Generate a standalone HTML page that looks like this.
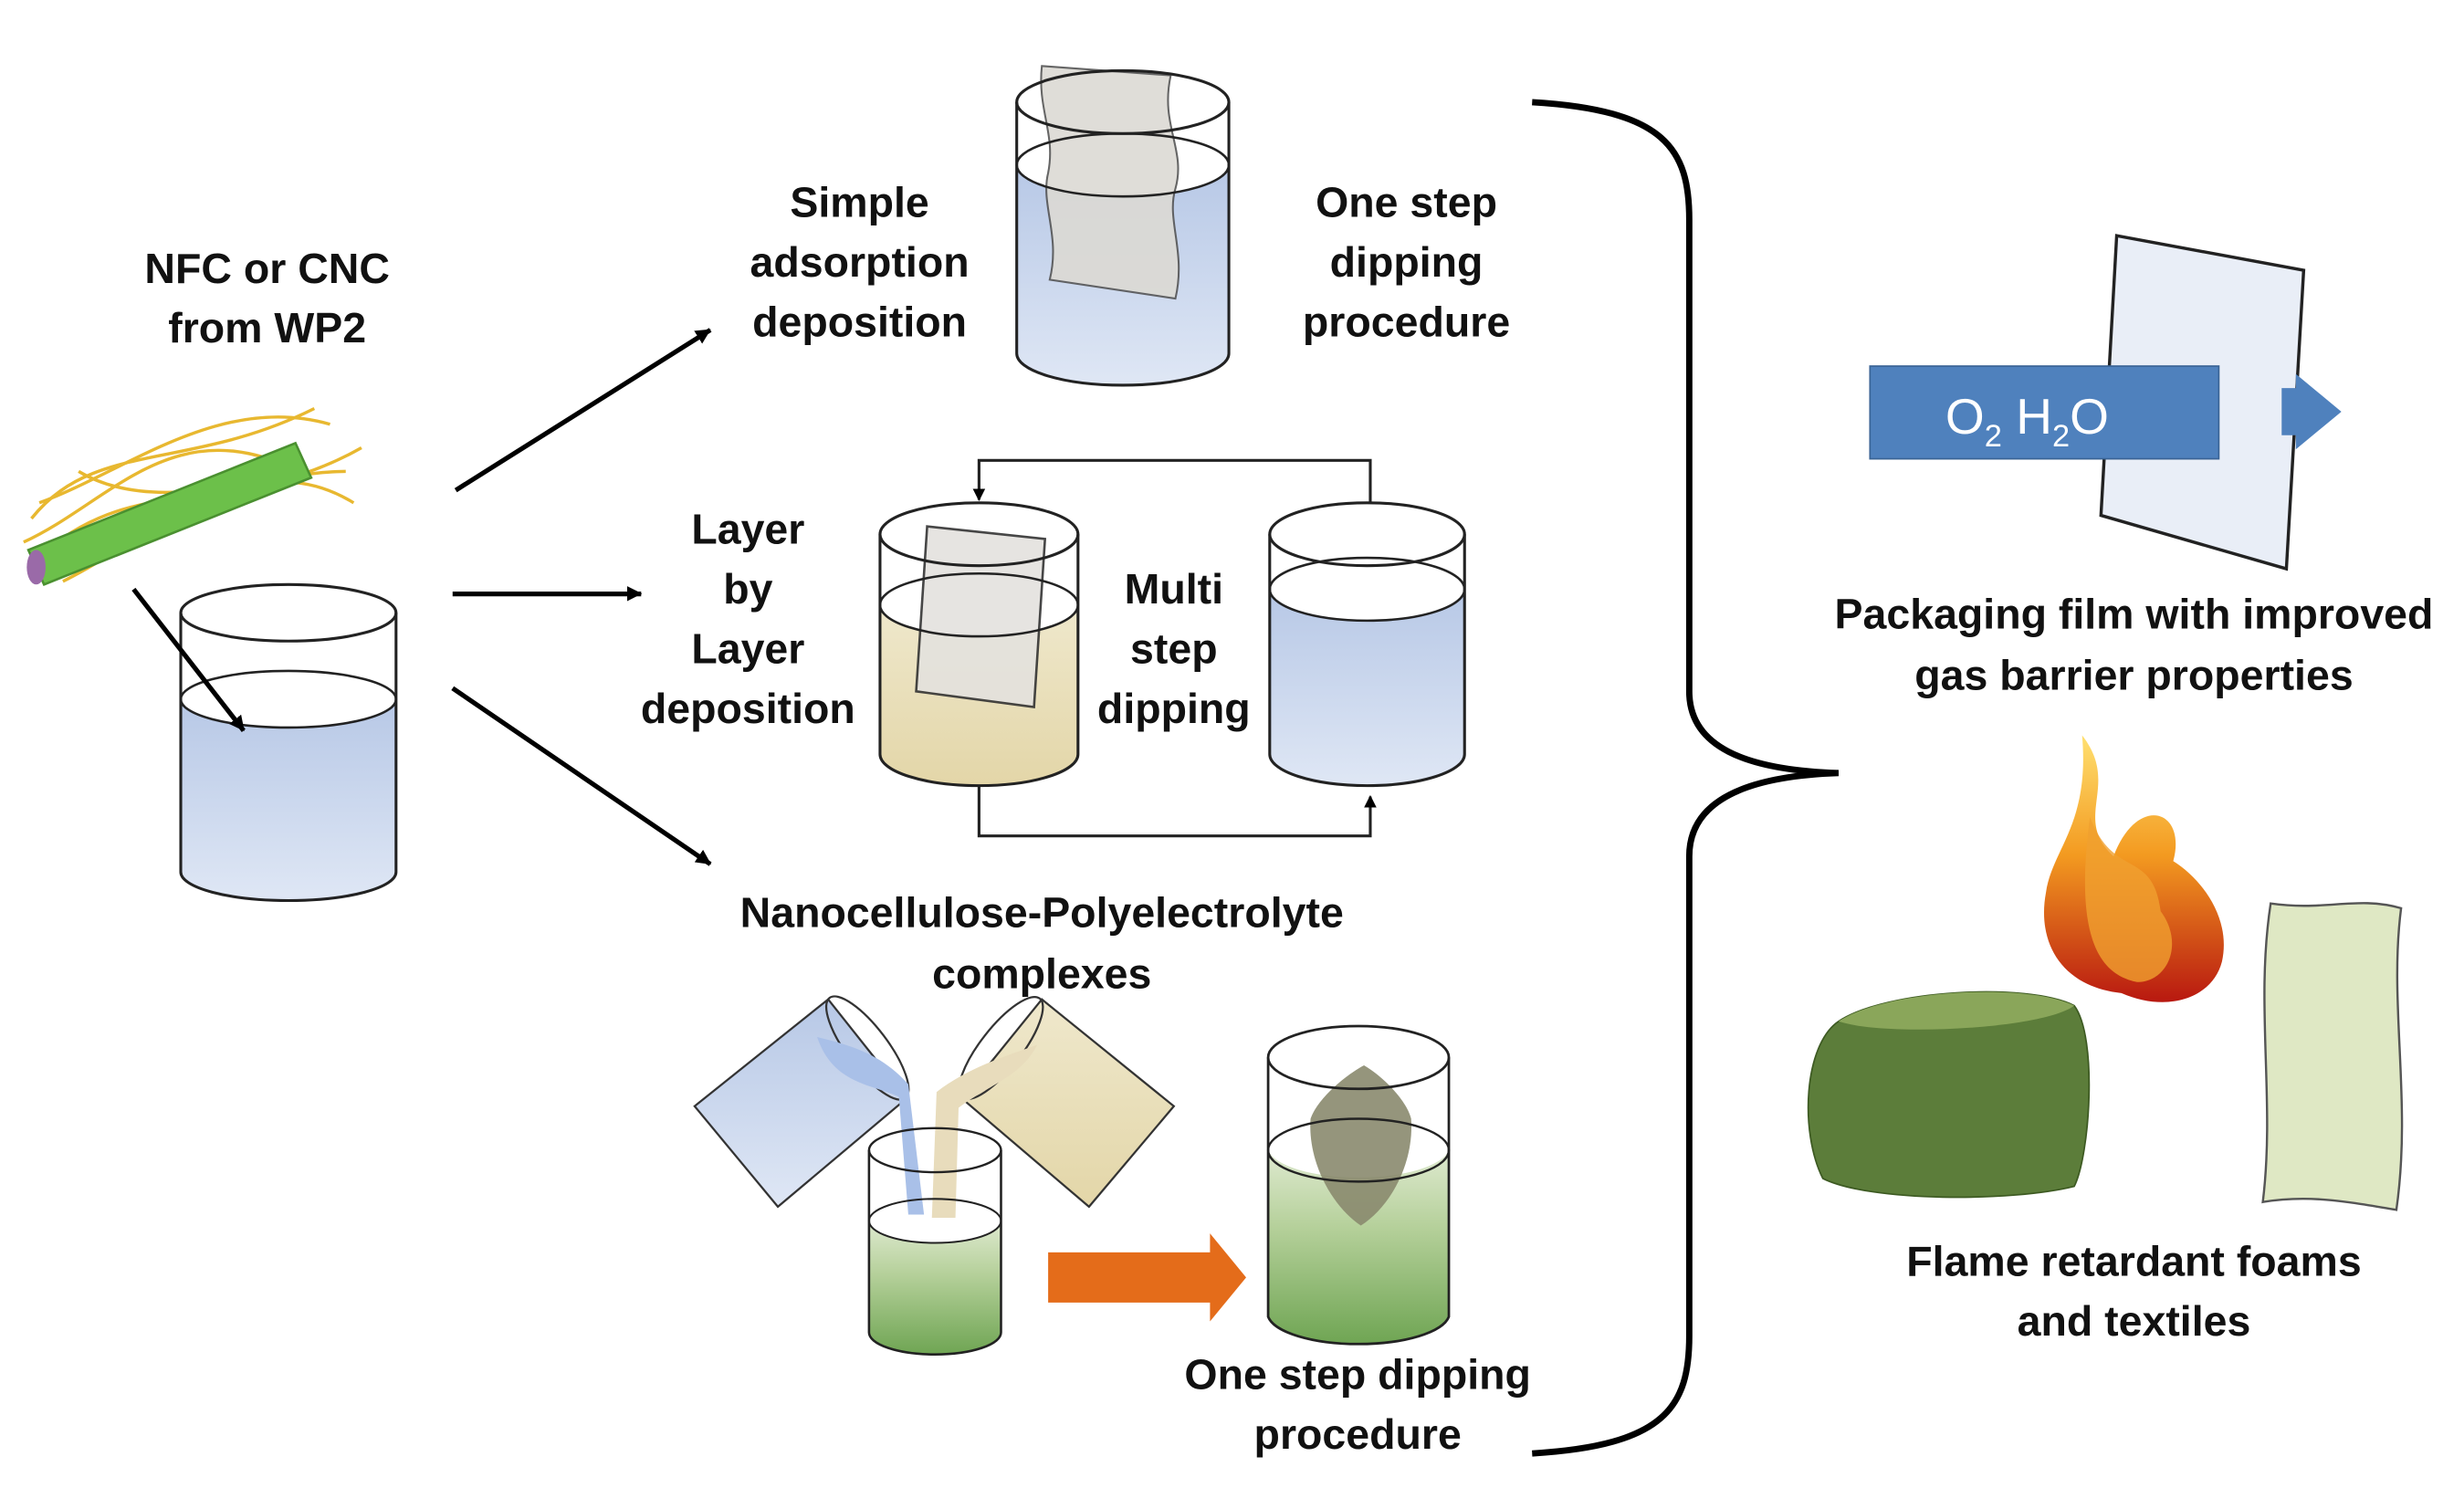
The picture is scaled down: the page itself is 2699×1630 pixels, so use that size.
<!DOCTYPE html>
<html><head><meta charset="utf-8"><style>
html,body{margin:0;padding:0;background:#fff;}
svg{display:block;}
text{font-family:"Liberation Sans",sans-serif;font-weight:bold;font-size:27px;fill:#111;text-anchor:middle;}
</style></head><body>
<svg width="2699" height="1630" viewBox="0 0 1568 947" xmlns="http://www.w3.org/2000/svg">
<defs>
<marker id="ah" markerWidth="10" markerHeight="10" refX="9" refY="5" orient="auto" markerUnits="userSpaceOnUse"><path d="M0,0 L10,5 L0,10 L3,5 Z" fill="#000" transform="scale(1.6) translate(-4,-2)"/></marker>
<marker id="sm" markerWidth="8" markerHeight="8" refX="7" refY="4" orient="auto" markerUnits="userSpaceOnUse"><path d="M0,0 L8,4 L0,8 Z" fill="#000"/></marker>
<linearGradient id="blue" x1="0" x2="0" y1="0" y2="1"><stop offset="0" stop-color="#b7c8e6"/><stop offset="1" stop-color="#dfe7f5"/></linearGradient>
<linearGradient id="beige" x1="0" x2="0" y1="0" y2="1"><stop offset="0" stop-color="#efe8cc"/><stop offset="1" stop-color="#e3d6a8"/></linearGradient>
<linearGradient id="green" x1="0" x2="0" y1="0" y2="1"><stop offset="0" stop-color="#dfead0"/><stop offset="0.4" stop-color="#b5d09a"/><stop offset="1" stop-color="#6fa553"/></linearGradient>
<linearGradient id="flame" x1="0" x2="0" y1="0" y2="1"><stop offset="0" stop-color="#ffe070"/><stop offset="0.45" stop-color="#f39a20"/><stop offset="1" stop-color="#b81810"/></linearGradient>
</defs>

<text x="170" y="180">NFC or CNC</text>
<text x="170" y="218">from WP2</text>
<g fill="none" stroke="#e8b830" stroke-width="2">
<path d="M20,330 C60,280 120,300 200,260"/><path d="M30,350 C90,300 150,330 230,285"/>
<path d="M15,345 C70,320 110,260 190,300"/><path d="M40,370 C100,340 160,280 225,320"/>
<path d="M25,320 C80,300 140,250 210,270"/><path d="M50,300 C100,330 170,300 220,300"/>
</g>
<path d="M18,350 L188,282 L198,304 L28,372 Z" fill="#6cc04a" stroke="#4a9030" stroke-width="1.5"/>
<ellipse cx="23" cy="361" rx="6" ry="11" fill="#9a6aa8"/>

<!-- left beaker -->
<path d="M115,445 A68,18 0 0 0 252,445 L252,555 A68,18 0 0 1 115,555 Z" fill="url(#blue)"/>
<path d="M115,390 L115,555 A68,18 0 0 0 252,555 L252,390" fill="none" stroke="#222" stroke-width="1.8"/>
<ellipse cx="183.5" cy="390" rx="68.5" ry="18" fill="none" stroke="#222" stroke-width="1.8"/>
<ellipse cx="183.5" cy="445" rx="68.5" ry="18" fill="none" stroke="#222" stroke-width="1.5"/>
<line x1="85" y1="375" x2="155" y2="465" stroke="#000" stroke-width="3" marker-end="url(#ah)"/>

<line x1="290" y1="312" x2="452" y2="210" stroke="#000" stroke-width="3" marker-end="url(#ah)"/>
<line x1="288" y1="378" x2="408" y2="378" stroke="#000" stroke-width="3" marker-end="url(#ah)"/>
<line x1="288" y1="438" x2="452" y2="550" stroke="#000" stroke-width="3" marker-end="url(#ah)"/>

<!-- top beaker -->
<path d="M647,105 A67,20 0 0 0 782,105 L782,225 A67,20 0 0 1 647,225 Z" fill="url(#blue)"/>
<path d="M663,42 L745,48 C738,80 755,95 748,120 C742,140 755,160 748,190 L668,178 C675,150 662,130 667,110 C672,85 660,70 663,42 Z" fill="#dcdad4" stroke="#555" stroke-width="1.2" opacity="0.9"/>
<path d="M647,65 L647,225 A67,20 0 0 0 782,225 L782,65" fill="none" stroke="#222" stroke-width="1.8"/>
<ellipse cx="714.5" cy="65" rx="67.5" ry="20" fill="none" stroke="#222" stroke-width="1.8"/>
<ellipse cx="714.5" cy="105" rx="67.5" ry="20" fill="none" stroke="#222" stroke-width="1.5"/>
<text x="547" y="138">Simple</text><text x="547" y="176">adsorption</text><text x="547" y="214">deposition</text>
<text x="895" y="138">One step</text><text x="895" y="176">dipping</text><text x="895" y="214">procedure</text>

<!-- middle -->
<path d="M560,385 A63,20 0 0 0 686,385 L686,480 A63,20 0 0 1 560,480 Z" fill="url(#beige)"/>
<path d="M590,335 L665,343 L658,450 L583,440 Z" fill="#e4e2de" stroke="#333" stroke-width="1.5" opacity="0.9"/>
<path d="M560,340 L560,480 A63,20 0 0 0 686,480 L686,340" fill="none" stroke="#222" stroke-width="1.8"/>
<ellipse cx="623" cy="340" rx="63" ry="20" fill="none" stroke="#222" stroke-width="1.8"/>
<ellipse cx="623" cy="385" rx="63" ry="20" fill="none" stroke="#222" stroke-width="1.5"/>
<path d="M808,375 A62,20 0 0 0 932,375 L932,480 A62,20 0 0 1 808,480 Z" fill="url(#blue)"/>
<path d="M808,340 L808,480 A62,20 0 0 0 932,480 L932,340" fill="none" stroke="#222" stroke-width="1.8"/>
<ellipse cx="870" cy="340" rx="62" ry="20" fill="none" stroke="#222" stroke-width="1.8"/>
<ellipse cx="870" cy="375" rx="62" ry="20" fill="none" stroke="#222" stroke-width="1.5"/>
<polyline points="872,320 872,293 623,293 623,318" fill="none" stroke="#222" stroke-width="1.8" marker-end="url(#sm)"/>
<polyline points="623,500 623,532 872,532 872,507" fill="none" stroke="#222" stroke-width="1.8" marker-end="url(#sm)"/>
<text x="476" y="346">Layer</text><text x="476" y="384">by</text><text x="476" y="422">Layer</text><text x="476" y="460">deposition</text>
<text x="747" y="384">Multi</text><text x="747" y="422">step</text><text x="747" y="460">dipping</text>

<!-- complexes -->
<text x="663" y="590">Nanocellulose-Polyelectrolyte</text>
<text x="663" y="629">complexes</text>
<!-- small beaker -->
<path d="M553,777 A42,14 0 0 0 637,777 L637,848 A42,14 0 0 1 553,848 Z" fill="url(#green)"/>
<!-- left pouring beaker -->
<polygon points="527,636 442,704 495,768 577,699" fill="url(#blue)" stroke="#333" stroke-width="1.3"/>
<ellipse cx="552" cy="667" rx="40" ry="13" transform="rotate(53 552 667)" fill="none" stroke="#333" stroke-width="1.3"/>
<path d="M520,660 C540,665 560,670 578,690 L588,773 L578,773 L572,698 C555,690 530,690 520,660 Z" fill="#a9c0e8"/>
<!-- right pouring beaker -->
<polygon points="663,636 612,699 693,768 747,704" fill="url(#beige)" stroke="#333" stroke-width="1.3"/>
<ellipse cx="637" cy="667" rx="40" ry="13" transform="rotate(-52 637 667)" fill="none" stroke="#333" stroke-width="1.3"/>
<path d="M660,665 C640,672 615,680 596,695 L593,775 L608,775 L610,705 C630,690 650,685 660,665 Z" fill="#e8dcbc"/>
<path d="M553,732 L553,848 A42,14 0 0 0 637,848 L637,732" fill="none" stroke="#222" stroke-width="1.5"/>
<ellipse cx="595" cy="732" rx="42" ry="14" fill="none" stroke="#222" stroke-width="1.4"/>
<ellipse cx="595" cy="777" rx="42" ry="14" fill="none" stroke="#222" stroke-width="1.2"/>
<polygon points="667,797 770,797 770,785 793,813 770,841 770,829 667,829" fill="#e46c1a"/>
<!-- right dipping beaker -->
<path d="M807,732 A58,20 0 0 0 922,732 L922,838 A58,20 0 0 1 807,838 Z" fill="url(#green)"/>
<path d="M868,678 C880,685 895,700 898,712 C900,740 885,768 866,780 C848,768 832,740 834,712 C838,700 855,685 868,678 Z" fill="#8a8a6e" opacity="0.9"/>
<path d="M807,673 L807,838 A58,20 0 0 0 922,838 L922,673" fill="none" stroke="#222" stroke-width="1.6"/>
<ellipse cx="864.5" cy="673" rx="57.5" ry="20" fill="none" stroke="#222" stroke-width="1.6"/>
<ellipse cx="864.5" cy="732" rx="57.5" ry="20" fill="none" stroke="#222" stroke-width="1.4"/>
<text x="864" y="884">One step dipping</text><text x="864" y="922">procedure</text>

<!-- brace -->
<path d="M975,65 C1060,70 1075,95 1075,140 L1075,440 C1075,475 1110,490 1170,492 C1110,494 1075,510 1075,545 L1075,850 C1075,895 1060,920 975,925" fill="none" stroke="#000" stroke-width="4"/>

<!-- packaging -->
<polygon points="1347,150 1466,172 1455,362 1337,328" fill="#e9eef7" stroke="#222" stroke-width="2"/>
<rect x="1190" y="233" width="222" height="59" fill="#4f81bd" stroke="#3a6496"/>
<polygon points="1452,247 1461,247 1461,238 1490,262 1461,286 1461,277 1452,277" fill="#4f81bd"/>
<text x="1290" y="276" style="fill:#fff;font-weight:normal;font-size:32px">O<tspan font-size="20" dy="8">2</tspan><tspan dy="-8"> H</tspan><tspan font-size="20" dy="8">2</tspan><tspan dy="-8">O</tspan></text>
<text x="1358" y="400">Packaging film with improved</text>
<text x="1358" y="439">gas barrier properties</text>

<!-- flame, foam, textile -->
<path d="M1325,468 C1350,500 1318,520 1345,545 C1360,505 1392,515 1383,548 C1402,560 1420,585 1414,612 C1408,635 1380,645 1350,632 C1312,628 1296,600 1302,568 C1306,540 1330,525 1325,468 Z" fill="url(#flame)"/>
<path d="M1330,520 C1345,560 1370,540 1375,580 C1390,600 1380,625 1360,625 C1335,620 1320,595 1330,520 Z" fill="#f0a030" opacity="0.8"/>
<path d="M1170,650 C1200,630 1290,625 1320,640 C1335,660 1330,735 1320,755 C1280,765 1190,765 1160,750 C1145,720 1148,665 1170,650 Z" fill="#5c7d3a" stroke="#3d5a22"/>
<path d="M1170,650 C1200,630 1290,625 1320,640 C1300,655 1200,660 1170,650 Z" fill="#8aa65a"/>
<path d="M1445,575 C1480,580 1500,570 1528,578 C1520,640 1535,700 1525,770 C1495,765 1470,760 1440,765 C1448,700 1435,640 1445,575 Z" fill="#dfe8c4" stroke="#555" stroke-width="1.4"/>
<text x="1358" y="812">Flame retardant foams</text>
<text x="1358" y="850">and textiles</text>
</svg>
</body></html>
